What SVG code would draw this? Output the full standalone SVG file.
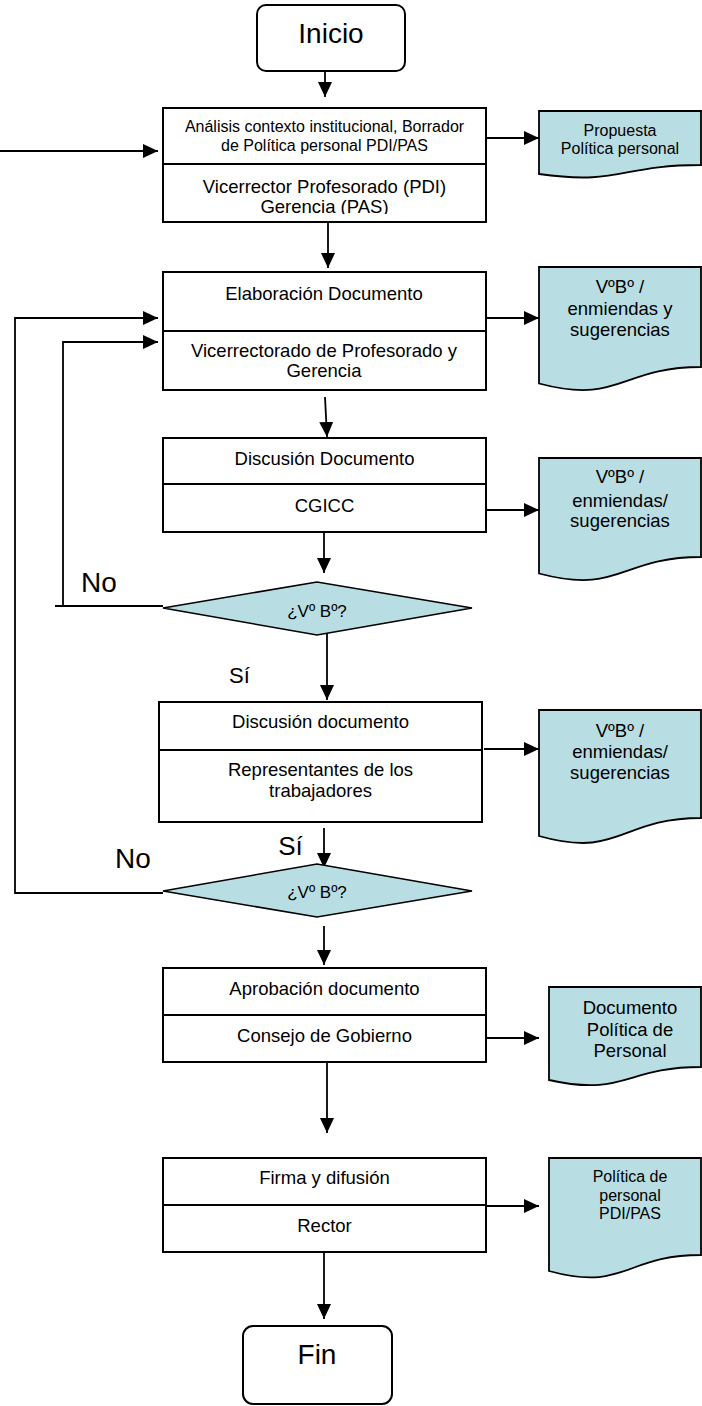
<svg xmlns="http://www.w3.org/2000/svg" width="702" height="1406" viewBox="0 0 702 1406">
  <defs>
    <marker id="arrow" viewBox="0 0 15 14" refX="15" refY="7" markerWidth="15" markerHeight="14" markerUnits="userSpaceOnUse" orient="auto">
      <path d="M0,0 L15,7 L0,14 Z" fill="#000"/>
    </marker>
    <clipPath id="clip-gerencia">
      <rect x="163" y="166" width="323" height="48"/>
    </clipPath>
  </defs>
  <style>
    text { font-family: "Liberation Sans", Arial, Helvetica, sans-serif; fill: #000; text-anchor: middle; }
    .box { fill: #fff; stroke: #000; stroke-width: 2; }
    .term { fill: #fff; stroke: #000; stroke-width: 2; }
    .doc { fill: #b8dee3; stroke: #000; stroke-width: 1.8; }
    .dec { fill: #b8dee3; stroke: #000; stroke-width: 1.6; }
    .div { stroke: #000; stroke-width: 2; }
    .conn { fill: none; stroke: #000; stroke-width: 1.8; }
    .t16 { font-size: 16px; }
    .t18 { font-size: 18.5px; }
    .t17 { font-size: 17px; }
    .big { font-size: 28px; }
  </style>

  <rect width="702" height="1406" fill="#fff"/>

  <!-- connectors -->
  <g id="connectors">
    <line class="conn" x1="325" y1="71" x2="325" y2="97" marker-end="url(#arrow)"/>
    <line class="conn" x1="0" y1="151" x2="158" y2="151" marker-end="url(#arrow)"/>
    <line class="conn" x1="486" y1="138" x2="539" y2="138" marker-end="url(#arrow)"/>
    <line class="conn" x1="328" y1="222" x2="328" y2="268" marker-end="url(#arrow)"/>
    <line class="conn" x1="486" y1="318" x2="539" y2="318" marker-end="url(#arrow)"/>
    <line class="conn" x1="325" y1="397" x2="327" y2="437" marker-end="url(#arrow)"/>
    <line class="conn" x1="486" y1="510" x2="539" y2="510" marker-end="url(#arrow)"/>
    <line class="conn" x1="324" y1="532" x2="324" y2="573" marker-end="url(#arrow)"/>
    <!-- "No" return from first decision -->
    <polyline class="conn" points="163,606 55,606"/>
    <polyline class="conn" points="63,606 63,342 158,342" marker-end="url(#arrow)"/>
    <line class="conn" x1="327" y1="630" x2="327" y2="700" marker-end="url(#arrow)"/>
    <line class="conn" x1="484" y1="749" x2="539" y2="749" marker-end="url(#arrow)"/>
    <line class="conn" x1="324" y1="828" x2="324" y2="868" marker-end="url(#arrow)"/>
    <!-- "No" return from second decision -->
    <polyline class="conn" points="163,893 15,893 15,318 158,318" marker-end="url(#arrow)"/>
    <line class="conn" x1="324" y1="926" x2="324" y2="965" marker-end="url(#arrow)"/>
    <line class="conn" x1="486" y1="1038" x2="539" y2="1038" marker-end="url(#arrow)"/>
    <line class="conn" x1="327" y1="1062" x2="327" y2="1133" marker-end="url(#arrow)"/>
    <line class="conn" x1="486" y1="1206" x2="539" y2="1206" marker-end="url(#arrow)"/>
    <line class="conn" x1="324" y1="1252" x2="324" y2="1319" marker-end="url(#arrow)"/>
  </g>

  <!-- start -->
  <g id="inicio">
    <rect class="term" x="257" y="5" width="148" height="66" rx="9"/>
    <text class="big" x="331" y="43">Inicio</text>
  </g>

  <!-- step 1 -->
  <g id="analisis">
    <rect class="box" x="163" y="108" width="323" height="114"/>
    <line class="div" x1="163" y1="164" x2="486" y2="164"/>
    <text class="t16" x="324.5" y="132">Análisis contexto institucional, Borrador</text>
    <text class="t16" x="324.5" y="151">de Política personal PDI/PAS</text>
    <text class="t18" x="324.5" y="193">Vicerrector Profesorado (PDI)</text>
    <text class="t18" x="324.5" y="213" clip-path="url(#clip-gerencia)">Gerencia (PAS)</text>
  </g>

  <g id="doc-propuesta">
    <path class="doc" d="M539,111 H701 V165 C620,165 620,185.5 539,174 Z"/>
    <text class="t16" x="620" y="136">Propuesta</text>
    <text class="t16" x="620" y="154">Política personal</text>
  </g>

  <!-- step 2 -->
  <g id="elaboracion">
    <rect class="box" x="163" y="272" width="323" height="118"/>
    <line class="div" x1="163" y1="331" x2="486" y2="331"/>
    <text class="t18" x="324" y="300">Elaboración Documento</text>
    <text class="t18" x="324" y="357">Vicerrectorado de Profesorado y</text>
    <text class="t18" x="324" y="377">Gerencia</text>
  </g>

  <g id="doc-vobo-1">
    <path class="doc" d="M539,267 H701 V367 C620,367 620,405 539,383.5 Z"/>
    <text class="t18" x="620" y="293">VºBº /</text>
    <text class="t18" x="620" y="315">enmiendas y</text>
    <text class="t18" x="620" y="336">sugerencias</text>
  </g>

  <!-- step 3 -->
  <g id="discusion-cgicc">
    <rect class="box" x="163" y="438" width="323" height="94"/>
    <line class="div" x1="163" y1="484" x2="486" y2="484"/>
    <text class="t18" x="324.5" y="465">Discusión Documento</text>
    <text class="t18" x="324.5" y="512">CGICC</text>
  </g>

  <g id="doc-vobo-2">
    <path class="doc" d="M539,458 H701 V557 C620,557 620,595 539,573.5 Z"/>
    <text class="t18" x="620" y="483">VºBº /</text>
    <text class="t18" x="620" y="507">enmiendas/</text>
    <text class="t18" x="620" y="527">sugerencias</text>
  </g>

  <!-- decision 1 -->
  <g id="decision-1">
    <polygon class="dec" points="163,608 317,582 472,608 317,635"/>
    <text class="t17" x="317" y="617">¿Vº Bº?</text>
    <text class="big" x="99" y="592">No</text>
    <text x="239.5" y="683" style="font-size:22px">Sí</text>
  </g>

  <!-- step 4 -->
  <g id="discusion-representantes">
    <rect class="box" x="159" y="702" width="323" height="120"/>
    <line class="div" x1="159" y1="750" x2="482" y2="750"/>
    <text class="t18" x="320.5" y="728">Discusión documento</text>
    <text class="t18" x="320.5" y="776">Representantes de los</text>
    <text class="t18" x="320.5" y="797">trabajadores</text>
  </g>

  <g id="doc-vobo-3">
    <path class="doc" d="M539,710 H701 V818 C620,818 620,859 539,836 Z"/>
    <text class="t18" x="620" y="737">VºBº /</text>
    <text class="t18" x="620" y="758">enmiendas/</text>
    <text class="t18" x="620" y="779">sugerencias</text>
  </g>

  <!-- decision 2 -->
  <g id="decision-2">
    <polygon class="dec" points="163,891 317,864 472,891 317,917"/>
    <text class="t17" x="317" y="898">¿Vº Bº?</text>
    <text class="big" x="133" y="868">No</text>
    <text x="290.5" y="855" style="font-size:26px">Sí</text>
  </g>

  <!-- step 5 -->
  <g id="aprobacion">
    <rect class="box" x="163" y="968" width="323" height="94"/>
    <line class="div" x1="163" y1="1015" x2="486" y2="1015"/>
    <text class="t18" x="324.5" y="995">Aprobación documento</text>
    <text class="t18" x="324.5" y="1042">Consejo de Gobierno</text>
  </g>

  <g id="doc-politica">
    <path class="doc" d="M549,987 H701 V1067 C625,1067 625,1097 549,1080 Z"/>
    <text class="t18" x="630" y="1014">Documento</text>
    <text class="t18" x="630" y="1036">Política de</text>
    <text class="t18" x="630" y="1057">Personal</text>
  </g>

  <!-- step 6 -->
  <g id="firma">
    <rect class="box" x="163" y="1158" width="323" height="94"/>
    <line class="div" x1="163" y1="1205" x2="486" y2="1205"/>
    <text class="t18" x="324.5" y="1184">Firma y difusión</text>
    <text class="t18" x="324.5" y="1232">Rector</text>
  </g>

  <g id="doc-politica-pdi-pas">
    <path class="doc" d="M549,1158 H701 V1255 C625,1255 625,1292 549,1271 Z"/>
    <text class="t16" x="630" y="1182">Política de</text>
    <text class="t16" x="630" y="1201">personal</text>
    <text class="t16" x="630" y="1219">PDI/PAS</text>
  </g>

  <!-- end -->
  <g id="fin">
    <rect class="term" x="243" y="1326" width="149" height="78" rx="10"/>
    <text class="big" x="317" y="1364">Fin</text>
  </g>
</svg>
